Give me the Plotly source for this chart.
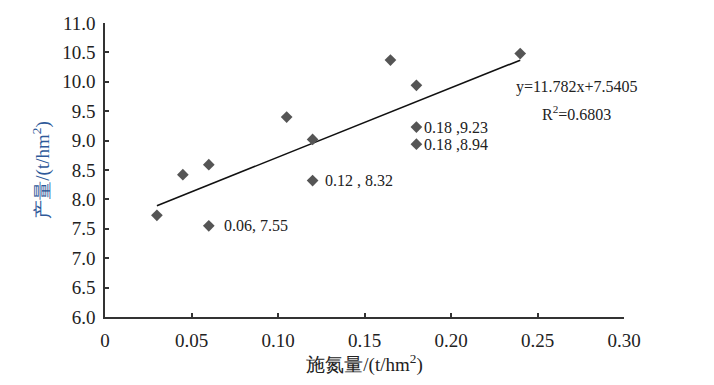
import plotly.graph_objects as go

# Data
n_rate = [0.03, 0.045, 0.06, 0.06, 0.105, 0.12, 0.12, 0.165, 0.18, 0.18, 0.18, 0.24]
yield_t = [7.73, 8.42, 8.59, 7.55, 9.40, 9.02, 8.32, 10.37, 9.94, 9.23, 8.94, 10.48]

# Labelled points
label_x = [0.06, 0.12, 0.18, 0.18]
label_y = [7.55, 8.32, 9.23, 8.94]
label_text = ["0.06, 7.55", "0.12 , 8.32", "0.18 ,9.23", "0.18 ,8.94"]

# Linear trend from the chart's equation
slope = 11.782
intercept = 7.5405
r2 = 0.6803
trend_x = [0.03, 0.24]
trend_y = [slope * v + intercept for v in trend_x]

x_ticks = [0, 0.05, 0.10, 0.15, 0.20, 0.25, 0.30]
x_tick_labels = ["0", "0.05", "0.10", "0.15", "0.20", "0.25", "0.30"]
y_ticks = [6.0, 6.5, 7.0, 7.5, 8.0, 8.5, 9.0, 9.5, 10.0, 10.5, 11.0]
y_tick_labels = [f"{v:.1f}" for v in y_ticks]

FONT = "Liberation Serif, Times New Roman, serif"

fig = go.Figure()
fig.add_trace(go.Scatter(
    x=trend_x, y=trend_y, mode="lines",
    line=dict(color="#111111", width=1.6), showlegend=False, hoverinfo="skip"))
fig.add_trace(go.Scatter(
    x=n_rate, y=yield_t, mode="markers",
    marker=dict(symbol="diamond", size=9, color="#555555"),
    showlegend=False))

xshifts = [13, 10, 6, 6]
for x, y, t, s in zip(label_x, label_y, label_text, xshifts):
    fig.add_annotation(x=x, y=y, xref="x", yref="y", text=t, showarrow=False,
                       xanchor="left", yanchor="middle", xshift=s,
                       font=dict(family=FONT, size=16, color="#222222"))

fig.add_annotation(x=0.2725, y=9.91, xref="x", yref="y",
                   text=f"y={slope}x+{intercept}", showarrow=False,
                   xanchor="center", yanchor="middle",
                   font=dict(family=FONT, size=16, color="#222222"))
fig.add_annotation(x=0.2725, y=9.47, xref="x", yref="y",
                   text=f"R<sup>2</sup>={r2}", showarrow=False,
                   xanchor="center", yanchor="middle",
                   font=dict(family=FONT, size=16, color="#222222"))

fig.update_layout(
    width=714, height=385,
    margin=dict(l=97, r=98, t=15, b=76),
    paper_bgcolor="white", plot_bgcolor="white",
    font=dict(family=FONT, size=19, color="#222222"),
    xaxis=dict(
        range=[0, 0.30], tickvals=x_ticks, ticktext=x_tick_labels,
        automargin=False,
        showgrid=False, zeroline=False, showline=True,
        linecolor="#333333", linewidth=1.5,
        ticks="inside", ticklen=4, tickcolor="#333333", tickwidth=1.5,
        ticklabelstandoff=5,
        tickfont=dict(family=FONT, size=19, color="#222222"),
        title=dict(text="施氮量/(t/hm<sup>2</sup>)",
                   font=dict(family=FONT, size=19, color="#222222"),
                   standoff=8),
    ),
    yaxis=dict(
        range=[6.0, 11.0], tickvals=y_ticks, ticktext=y_tick_labels,
        automargin=False,
        showgrid=False, zeroline=False, showline=True,
        linecolor="#333333", linewidth=1.5,
        ticks="inside", ticklen=4, tickcolor="#333333", tickwidth=1.5,
        ticklabelstandoff=4,
        tickfont=dict(family=FONT, size=19, color="#222222"),
        title=dict(text="产量/(t/hm<sup>2</sup>)",
                   font=dict(family=FONT, size=19, color="#2f5a9a"),
                   standoff=8),
    ),
)

fig.write_html("out.html")
